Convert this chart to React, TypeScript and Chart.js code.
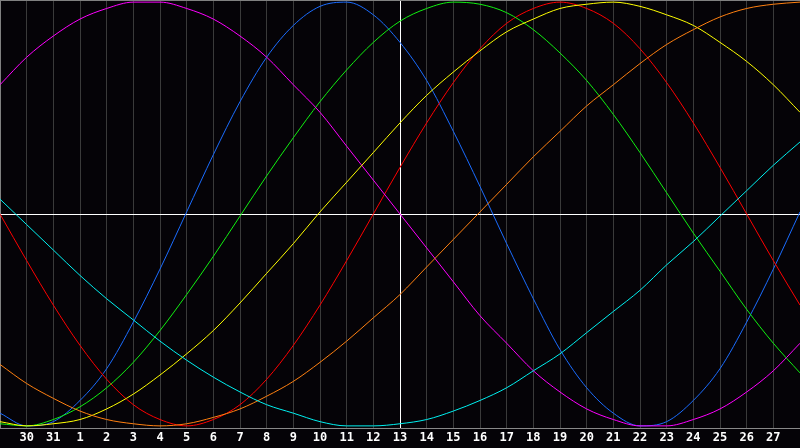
import React, { useEffect, useRef } from "react";
import { Chart, registerables } from "chart.js";

Chart.register(...registerables);

const days = ["29", "30", "31", "1", "2", "3", "4", "5", "6", "7", "8", "9", "10", "11", "12", "13", "14", "15", "16", "17", "18", "19", "20", "21", "22", "23", "24", "25", "26", "27", "28"];

const physical = [-0.94, -1.0, -0.98, -0.88, -0.73, -0.51, -0.26, 0.01, 0.28, 0.53, 0.74, 0.89, 0.98, 1.0, 0.94, 0.81, 0.63, 0.39, 0.13, -0.14, -0.4, -0.64, -0.82, -0.94, -1.0, -0.98, -0.88, -0.73, -0.51, -0.26, 0.01];
const emotional = [0, -0.22, -0.43, -0.62, -0.78, -0.9, -0.97, -1.0, -0.97, -0.9, -0.78, -0.62, -0.43, -0.22, 0, 0.22, 0.43, 0.62, 0.78, 0.9, 0.97, 1.0, 0.97, 0.9, 0.78, 0.62, 0.43, 0.22, 0, -0.22, -0.43];
const intellectual = [-0.99, -1.0, -0.97, -0.91, -0.82, -0.7, -0.55, -0.38, -0.2, -0.01, 0.18, 0.36, 0.53, 0.68, 0.81, 0.91, 0.97, 1.0, 0.99, 0.95, 0.87, 0.76, 0.63, 0.47, 0.29, 0.1, -0.09, -0.27, -0.45, -0.61, -0.75];
const intuitive = [0.61, 0.74, 0.84, 0.92, 0.97, 1.0, 1.0, 0.97, 0.92, 0.84, 0.74, 0.61, 0.48, 0.32, 0.16, 0, -0.16, -0.32, -0.48, -0.61, -0.74, -0.84, -0.92, -0.97, -1.0, -1.0, -0.97, -0.92, -0.84, -0.74, -0.61];
const aesthetic = [-0.98, -1.0, -0.99, -0.97, -0.92, -0.85, -0.76, -0.66, -0.55, -0.42, -0.28, -0.14, 0.01, 0.15, 0.29, 0.43, 0.56, 0.67, 0.77, 0.86, 0.92, 0.97, 0.99, 1.0, 0.98, 0.94, 0.89, 0.81, 0.72, 0.61, 0.48];
const awareness = [-0.71, -0.8, -0.87, -0.93, -0.97, -0.99, -1.0, -0.99, -0.96, -0.92, -0.86, -0.79, -0.7, -0.6, -0.49, -0.38, -0.25, -0.12, 0.01, 0.14, 0.27, 0.39, 0.51, 0.61, 0.71, 0.8, 0.87, 0.93, 0.97, 0.99, 1.0];
const spiritual = [0.07, -0.05, -0.17, -0.29, -0.4, -0.5, -0.6, -0.69, -0.77, -0.84, -0.9, -0.94, -0.98, -1.0, -1.0, -0.99, -0.97, -0.93, -0.88, -0.82, -0.74, -0.66, -0.56, -0.46, -0.36, -0.24, -0.13, -0.01, 0.11, 0.23, 0.34];

const seriesList = [
  { name: "Spiritual", data: spiritual, color: "#00f0f0" },
  { name: "Awareness", data: awareness, color: "#ff8010" },
  { name: "Aesthetic", data: aesthetic, color: "#ffff00" },
  { name: "Intuitive", data: intuitive, color: "#ff00ff" },
  { name: "Intellectual", data: intellectual, color: "#10f010" },
  { name: "Emotional", data: emotional, color: "#ff0000" },
  { name: "Physical", data: physical, color: "#1a6cff" },
];

const todayIndex = 15;

export default function App() {
  const ref = useRef<HTMLCanvasElement | null>(null);

  useEffect(() => {
    document.body.style.margin = "0";
    document.body.style.background = "#050307";
    if (!ref.current) return;

    const framePlugin = {
      id: "frame",
      beforeDraw(chart: any) {
        const { ctx, width, height } = chart;
        ctx.save();
        ctx.fillStyle = "#050307";
        ctx.fillRect(0, 0, width, height);
        ctx.restore();
      },
      beforeDatasetsDraw(chart: any) {
        const { ctx, chartArea, scales } = chart;
        const y0 = Math.round(scales.y.getPixelForValue(0)) + 0.5;
        ctx.save();
        ctx.strokeStyle = "#ffffff";
        ctx.lineWidth = 1;
        ctx.beginPath();
        ctx.moveTo(chartArea.left, y0);
        ctx.lineTo(chartArea.right, y0);
        ctx.stroke();
        ctx.strokeStyle = "#808080";
        ctx.beginPath();
        ctx.moveTo(chartArea.left, chartArea.top + 0.5);
        ctx.lineTo(chartArea.right, chartArea.top + 0.5);
        ctx.stroke();
        ctx.restore();
      },
    };

    const chart = new Chart(ref.current, {
      type: "line",
      data: {
        labels: days,
        datasets: seriesList.map((s) => ({
          label: s.name,
          data: s.data,
          borderColor: s.color,
          borderWidth: 1,
          pointRadius: 0,
          fill: false,
          cubicInterpolationMode: "monotone",
        })),
      },
      options: {
        responsive: false,
        animation: false,
        layout: { autoPadding: false, padding: { left: 0, right: 0, top: 0, bottom: 0 } },
        plugins: {
          legend: { display: false },
          tooltip: { enabled: false },
        },
        scales: {
          x: {
            type: "category",
            offset: false,
            border: { display: true, color: "#888888", width: 1 },
            grid: {
              drawTicks: false,
              lineWidth: 1,
              color: (ctx: any) =>
                ctx.index === 0 ? "#808080" : ctx.index === todayIndex ? "#ffffff" : ctx.index === days.length - 1 ? "rgba(0,0,0,0)" : "#3a3a3a",
            },
            ticks: {
              autoSkip: false,
              maxRotation: 0,
              minRotation: 0,
              padding: 0,
              color: "#ffffff",
              font: { family: "'DejaVu Sans Mono', monospace", size: 12, weight: "bold", lineHeight: 20 / 12 },
              callback: (_v: any, i: number) => (i === 0 || i === days.length - 1 ? "" : days[i]),
            },
          },
          y: {
            display: false,
            min: -1.01,
            max: 1.01,
          },
        },
      },
      plugins: [framePlugin],
    });

    return () => chart.destroy();
  }, []);

  return (
    <div style={{ width: 800, height: 448, position: "relative" }}>
      <canvas ref={ref} width={800} height={448} style={{ display: "block" }} />
    </div>
  );
}
